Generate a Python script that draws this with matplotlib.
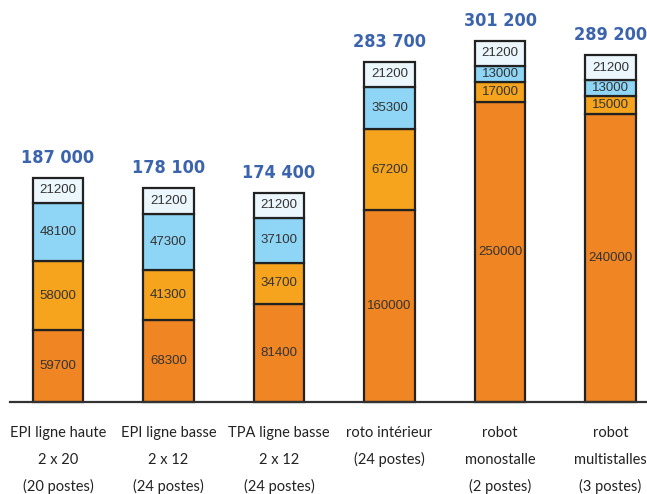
import numpy as np
import matplotlib
matplotlib.use('Agg')
import matplotlib.pyplot as plt

categories = [['EPI ligne haute', '2 x 20', '(20 postes)'],
              ['EPI ligne basse', '2 x 12', '(24 postes)'],
              ['TPA ligne basse', '2 x 12', '(24 postes)'],
              ['roto intérieur', '(24 postes)'],
              ['robot', 'monostalle', '(2 postes)'],
              ['robot', 'multistalles', '(3 postes)']]
seg1 = [59700, 68300, 81400, 160000, 250000, 240000]
seg2 = [58000, 41300, 34700, 67200, 17000, 15000]
seg3 = [48100, 47300, 37100, 35300, 13000, 13000]
seg4 = [21200, 21200, 21200, 21200, 21200, 21200]
totals = ['187 000', '178 100', '174 400', '283 700', '301 200', '289 200']

colors = ['#F08524', '#F6A41D', '#8FD6F6', '#EBF6FD']

fig = plt.figure(figsize=(6.47, 4.94), dpi=100)
ax = fig.add_axes([0, 0, 1, 1])
ax.set_xlim(-0.525, 5.33)
ax.set_ylim(-76700, 335000)
ax.axis('off')

x = np.arange(len(categories))
bottom = np.zeros(len(categories))
for seg, c in zip([seg1, seg2, seg3, seg4], colors):
    seg = np.array(seg)
    ax.bar(x, seg, 0.46, bottom=bottom, color=c, edgecolor='#222222', linewidth=1.6, zorder=2)
    for xi, b, v in zip(x, bottom, seg):
        ax.text(xi, b + v / 2, str(v), ha='center', va='center', fontsize=9.5,
                family='Liberation Sans', color='#333333', zorder=3)
    bottom += seg

for xi, top, t in zip(x, bottom, totals):
    ax.text(xi, top + 16500, t, ha='center', va='center', fontsize=13, fontweight='bold',
            family='DejaVu Sans', fontstretch='condensed', color='#3B64AD')

ax.plot([-0.43, 5.33], [0, 0], color='#333333', linewidth=1.6, zorder=4, clip_on=False)

# category labels, one text per line, top aligned
line_y = [-25800, -48300, -70800]
for xi, lines in zip(x, categories):
    for ly, s in zip(line_y, lines):
        ax.text(xi, ly, s, ha='center', va='center', fontsize=10.5,
                family='Lato', color='#222222')

fig.savefig('out.png', dpi=100)
